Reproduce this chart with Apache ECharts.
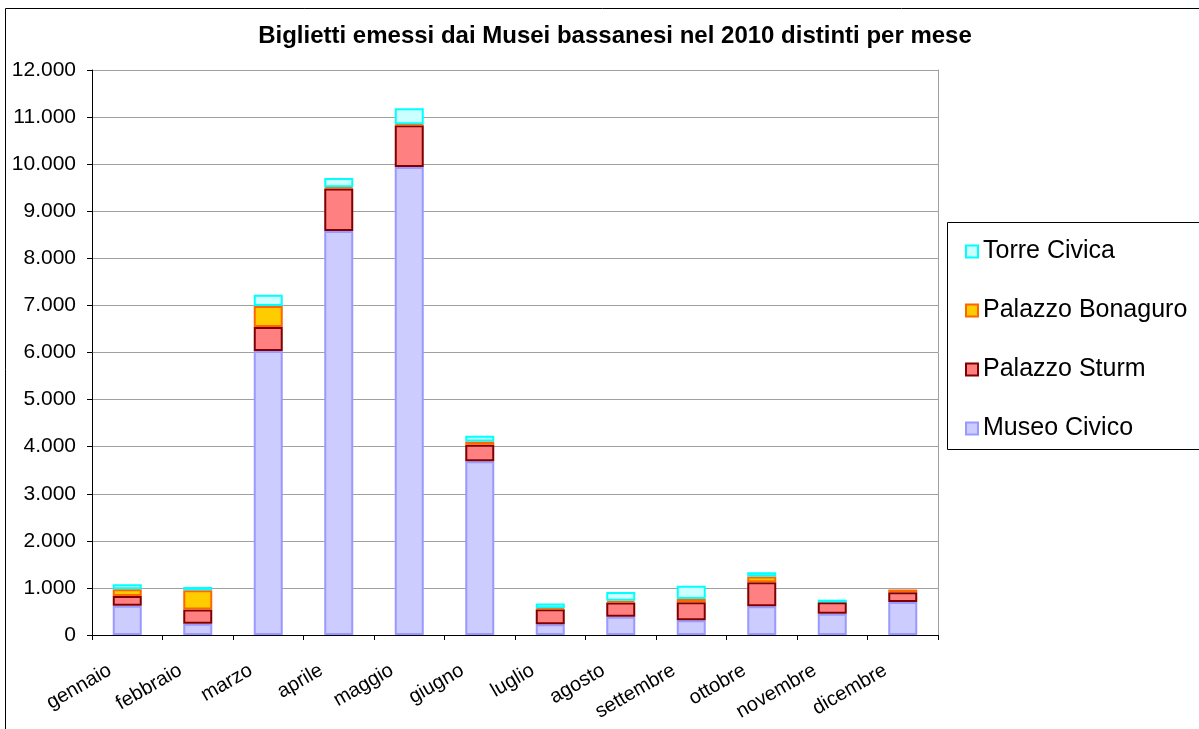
<!DOCTYPE html>
<html>
<head>
<meta charset="utf-8">
<script src="https://cdn.jsdelivr.net/npm/echarts@6/dist/echarts.min.js"></script>
<style>
html,body{margin:0;padding:0;background:#fff;}
#chart{width:1199px;height:729px;}
</style>
</head>
<body>
<div id="chart"></div>
<script>
var titleText = 'Biglietti emessi dai Musei bassanesi nel 2010 distinti per mese';
var months = ['gennaio','febbraio','marzo','aprile','maggio','giugno','luglio','agosto','settembre','ottobre','novembre','dicembre'];
var museoCivico = [620, 240, 6030, 8580, 9940, 3690, 230, 390, 315, 610, 450, 700];
var palazzoSturm = [210, 300, 510, 905, 886, 350, 315, 300, 380, 510, 245, 210];
var palazzoBonaguro = [140, 410, 445, 27, 20, 70, 25, 35, 70, 120, null, 56];
var torreCivica = [110, 70, 240, 195, 340, 120, 100, 190, 280, 95, 55, null];
var legendOrder = ['Torre Civica','Palazzo Bonaguro','Palazzo Sturm','Museo Civico'];

var FONT = '"Liberation Sans", Arial, sans-serif';
function fmt(v){
  return String(v).replace(/\B(?=(\d{3})+(?!\d))/g, '.');
}
function bar(name, data, fill, border){
  return {
    name: name, type: 'bar', stack: 'tot', data: data, barWidth: 29,
    itemStyle: {color: fill, borderColor: border, borderWidth: 2},
    emphasis: {disabled: true}
  };
}
var chart = echarts.init(document.getElementById('chart'), null, {renderer: 'canvas'});
chart.setOption({
  animation: false,
  backgroundColor: '#fff',
  title: {
    text: titleText, left: 610, top: 19, textAlign: 'center',
    textStyle: {fontFamily: FONT, fontSize: 24, fontWeight: 'bold', color: '#000'}
  },
  graphic: [
    {type: 'rect', shape: {x: 5.5, y: 8.5, width: 1300, height: 800}, style: {fill: 'none', stroke: '#000', lineWidth: 1}, silent: true},
    {type: 'rect', shape: {x: 947.5, y: 222.5, width: 300, height: 227}, style: {fill: 'none', stroke: '#000', lineWidth: 1}, silent: true}
  ],
  legend: {
    data: legendOrder, orient: 'vertical', left: 960, top: 234,
    itemGap: 34, itemWidth: 12, itemHeight: 12, icon: 'rect',
    textStyle: {fontFamily: FONT, fontSize: 25, color: '#000'}
  },
  grid: {left: 92, right: 261, top: 70, bottom: 94, containLabel: false},
  xAxis: {
    type: 'category', data: months, boundaryGap: true,
    axisLine: {lineStyle: {color: '#000', width: 1}},
    axisTick: {show: true, length: 5, lineStyle: {color: '#000'}},
    axisLabel: {rotate: 30, interval: 0, margin: 24, padding: [0, 20, 0, 0], fontFamily: FONT, fontSize: 20, color: '#000'},
    splitLine: {show: false}
  },
  yAxis: [{
    type: 'value', min: 0, max: 12000, interval: 1000,
    axisLine: {show: true, lineStyle: {color: '#000'}},
    axisTick: {show: true, length: 5, lineStyle: {color: '#000'}},
    axisLabel: {formatter: fmt, margin: 16, fontFamily: FONT, fontSize: 21, color: '#000'},
    splitLine: {show: true, lineStyle: {color: '#a0a0a0', width: 1}}
  }, {
    type: 'value', min: 0, max: 12000, interval: 1000, position: 'right',
    axisLine: {show: true, lineStyle: {color: '#a0a0a0'}},
    axisTick: {show: false}, axisLabel: {show: false}, splitLine: {show: false}
  }],
  series: [
    bar('Museo Civico', museoCivico, '#ccccff', '#9999ff'),
    bar('Palazzo Sturm', palazzoSturm, '#ff8080', '#800000'),
    bar('Palazzo Bonaguro', palazzoBonaguro, '#ffcc00', '#ff6600'),
    bar('Torre Civica', torreCivica, '#ccffff', '#00ffff')
  ]
});
</script>
</body>
</html>
